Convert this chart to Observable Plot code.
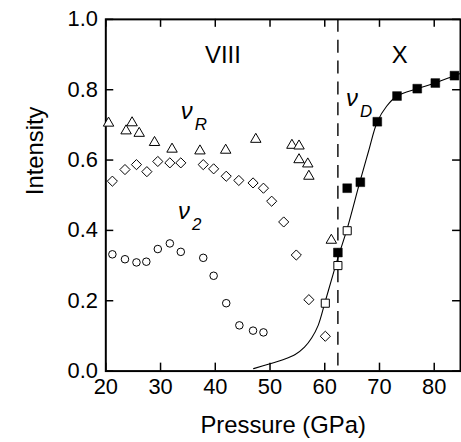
<!DOCTYPE html>
<html><head><meta charset="utf-8">
<script src="https://cdn.jsdelivr.net/npm/d3@7"></script>
<script src="https://cdn.jsdelivr.net/npm/@observablehq/plot@0.6"></script>
<style>
html,body{margin:0;padding:0;background:#fff;overflow:hidden;}
#chart{width:461px;height:442px;overflow:hidden;}
</style></head><body><div id="chart"></div>
<script>
// ν_R (open triangles): [pressure GPa, intensity]
const nuR = [[20.5,0.705],[23.7,0.683],[24.8,0.706],[26.1,0.676],[28.9,0.650],[32.1,0.631],[37.2,0.626],[41.9,0.628],[47.4,0.659],[54.0,0.642],[55.3,0.640],[55.3,0.601],[56.9,0.589],[57.1,0.554],[61.2,0.372]];
// lattice mode (open diamonds)
const lattice = [[21.2,0.540],[23.5,0.573],[25.6,0.587],[27.5,0.567],[29.5,0.596],[31.7,0.592],[33.7,0.592],[37.8,0.587],[39.7,0.575],[42.0,0.554],[44.3,0.542],[46.9,0.535],[48.8,0.520],[50.3,0.483],[52.5,0.424],[54.8,0.330],[57.1,0.203],[60.1,0.099]];
// ν_2 (open circles)
const nu2 = [[21.2,0.332],[23.5,0.318],[25.6,0.309],[27.4,0.311],[29.5,0.347],[31.7,0.363],[33.7,0.339],[37.8,0.322],[39.7,0.271],[42.0,0.193],[44.4,0.130],[46.9,0.115],[48.8,0.110]];
// ν_D (filled squares)
const nuD = [[62.4,0.337],[64.1,0.520],[66.5,0.537],[69.6,0.709],[73.2,0.782],[76.9,0.803],[80.2,0.819],[83.7,0.840]];
// ν_D (open squares)
const nuDopen = [[60.1,0.193],[62.4,0.300],[64.1,0.399]];
// solid fitted curve, read point by point
const fitCurve = [[47.0,0.007],[50.0,0.021],[52.5,0.033],[54.6,0.047],[56.3,0.068],[57.6,0.094],[58.8,0.130],[60.0,0.193],[61.2,0.258],[62.4,0.322],[64.1,0.405],[66.4,0.537],[68.0,0.625],[69.6,0.709],[71.3,0.753],[73.2,0.782],[76.9,0.803],[80.2,0.819],[83.7,0.840],[84.8,0.846]];
// VIII / X transition pressure (dashed line)
const transitionP = [62.4];
// phase labels
const phaseNames = ["VIII","X"];
const phaseX = [41.4,73.7];
const phaseY = [0.877,0.877];
// mode labels (ν + subscript)
const modeSubs = ["R","2","D"];
const modeX = [33.7,33.2,63.9];
const modeY = [0.716,0.433,0.754];
// axes
const xTicks = [20,30,40,50,60,70,80];
const yTicks = [0,0.2,0.4,0.6,0.8,1.0];
const xLabel = "Pressure (GPa)";
const yLabel = "Intensity";

const W = 464, H = 442, mL = 106, mR = 1, mT = 19, mB = 69;
const innerW = W - mL - mR, innerH = H - mT - mB;
const font = "'Liberation Sans', Arial, Helvetica, sans-serif";

const phases = phaseNames.map((t,i)=>({t, x: phaseX[i], y: phaseY[i]}));
const modes = modeSubs.map((s,i)=>({s, x: modeX[i], y: modeY[i]}));

const plot = Plot.plot({
  width: W, height: H, marginLeft: mL, marginRight: mR, marginTop: mT, marginBottom: mB,
  style: {fontFamily: font, background: "white", color: "black"},
  x: {domain: [20, 84.8], label: null},
  y: {domain: [0, 1], label: null},
  marks: [
    Plot.axisX(xTicks, {tickSize: 0, tickPadding: 7, fontSize: 22, tickFormat: d => String(d), label: null}),
    Plot.axisY(yTicks, {tickSize: 0, tickPadding: 8, fontSize: 22, tickFormat: d3.format(".1f"), label: null}),
    Plot.tickX(xTicks, {x: d => d, insetTop: innerH - 8, strokeWidth: 1.5}),
    Plot.tickX(xTicks, {x: d => d, insetBottom: innerH - 8, strokeWidth: 1.5}),
    Plot.tickY(yTicks, {y: d => d, insetRight: innerW - 8, strokeWidth: 1.5}),
    Plot.tickY(yTicks, {y: d => d, insetLeft: innerW - 8, strokeWidth: 1.5}),
    Plot.frame({strokeWidth: 2}),
    Plot.ruleX(transitionP, {x: d => d, strokeDasharray: "13,8", strokeWidth: 1.4}),
    Plot.line(fitCurve, {x: d => d[0], y: d => d[1], curve: "catmull-rom", strokeWidth: 1.1}),
    Plot.dot(nuR, {x: d => d[0], y: d => d[1], symbol: "triangle", r: 3.9, stroke: "black", fill: "white", strokeWidth: 1}),
    Plot.dot(lattice, {x: d => d[0], y: d => d[1], symbol: "diamond2", r: 4.6, stroke: "black", fill: "white", strokeWidth: 1}),
    Plot.dot(nu2, {x: d => d[0], y: d => d[1], symbol: "circle", r: 3.8, stroke: "black", fill: "white", strokeWidth: 1}),
    Plot.dot(nuDopen, {x: d => d[0], y: d => d[1], symbol: "square", r: 4.6, stroke: "black", fill: "white", strokeWidth: 1}),
    Plot.dot(nuD, {x: d => d[0], y: d => d[1], symbol: "square", r: 5.0, fill: "black", stroke: "black", strokeWidth: 0.5}),
    Plot.text(phases, {x: "x", y: "y", text: "t", fontSize: 24, textAnchor: "middle", lineAnchor: "bottom"}),
    Plot.text(modes, {x: "x", y: "y", text: () => "ν", fontSize: 24, fontStyle: "italic", textAnchor: "start", lineAnchor: "bottom"}),
    Plot.text(modes, {x: "x", y: "y", text: "s", fontSize: 17, fontStyle: "italic", textAnchor: "start", lineAnchor: "bottom", dx: 14, dy: 11}),
    Plot.text([xLabel], {frameAnchor: "bottom", text: d => d, fontSize: 24, lineAnchor: "bottom", dy: 62}),
    Plot.text([yLabel], {frameAnchor: "left", text: d => d, fontSize: 24, rotate: -90, lineAnchor: "bottom", dx: -63})
  ]
});
document.getElementById("chart").appendChild(plot);
</script></body></html>
